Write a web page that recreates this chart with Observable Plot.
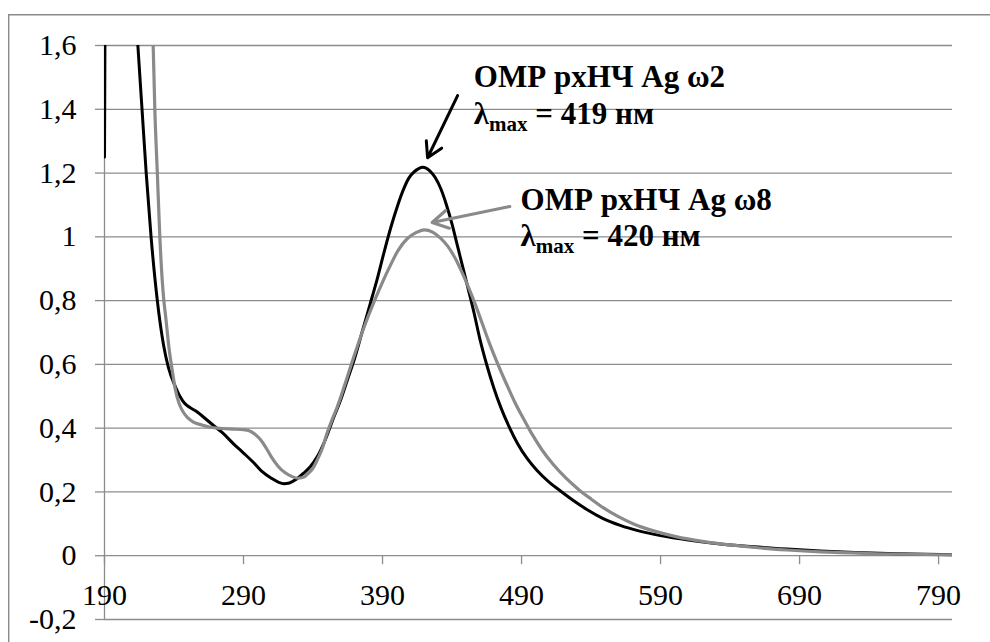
<!DOCTYPE html>
<html>
<head>
<meta charset="utf-8">
<script src="https://cdn.jsdelivr.net/npm/d3@7"></script>
<script src="https://cdn.jsdelivr.net/npm/@observablehq/plot@0.6"></script>
</head>
<body style="margin:0">
<script>
// Wavelength (nm) and absorbance for the ω2 sample (black curve)
const w2Wavelength = [190,191,200,208,212,214,217,220,223.5,228,232.5,236,241,246,257,268,275,283,290,297,303,310,315,319,323,328,333,338,343,348,355,360,365,370,376,381,386,391,396,401,405,409,412.5,416,419,424,428,432,436,440,444,448,452,456,460,465,470,475,481,487,494,501,510,518,527,537,548,561,575,590,610,633,657,681,705,730,760,800];
const w2Absorbance = [1.25,2.4,2.8,2.1,1.75,1.6,1.4,1.2,1.0,0.8,0.66,0.59,0.53,0.487,0.45,0.41,0.385,0.35,0.322,0.293,0.265,0.243,0.231,0.226,0.228,0.24,0.258,0.279,0.31,0.355,0.435,0.49,0.555,0.62,0.712,0.788,0.865,0.95,1.03,1.1,1.148,1.185,1.203,1.214,1.218,1.207,1.185,1.15,1.1,1.04,0.97,0.9,0.83,0.758,0.68,0.598,0.527,0.466,0.405,0.353,0.305,0.268,0.23,0.203,0.174,0.145,0.118,0.095,0.077,0.063,0.049,0.037,0.028,0.021,0.015,0.01,0.006,0.003];

// Wavelength (nm) and absorbance for the ω8 sample (grey curve)
const w8Wavelength = [190,210,218,222,225,226.2,228,229.8,231.5,232.7,234,236.3,238.7,241,243.5,246,250,254,260,266,275,283,290,294,298,302,306,310,315,320,325,329,333,336,340,343,347,350,354,357.4,364.6,369.4,376,383.8,390,395.8,401,407.7,414,420,426,431.7,437,442,447,452,457,462,467,473,479,485.5,492,498,505,513,522,531,540,549,559,571,585,601,620,640,660,681,705,740,800];
const w8Absorbance = [3.0,2.6,2.1,1.8,1.6,1.4,1.2,1.0,0.865,0.8,0.75,0.655,0.582,0.52,0.48,0.455,0.432,0.419,0.41,0.403,0.399,0.397,0.395,0.392,0.382,0.365,0.34,0.31,0.28,0.26,0.248,0.243,0.246,0.256,0.275,0.3,0.34,0.383,0.43,0.466,0.56,0.625,0.708,0.795,0.858,0.912,0.956,0.994,1.013,1.022,1.015,0.996,0.97,0.935,0.89,0.84,0.785,0.725,0.665,0.6,0.54,0.478,0.425,0.378,0.33,0.285,0.243,0.208,0.178,0.15,0.124,0.099,0.078,0.06,0.045,0.034,0.025,0.018,0.012,0.007,0.003];

const xTicks = [190,290,390,490,590,690,790];
const xTickLabels = ["190","290","390","490","590","690","790"];
const yTicks = [-0.2,0,0.2,0.4,0.6,0.8,1,1.2,1.4,1.6];
const yTickLabels = ["-0,2","0","0,2","0,4","0,6","0,8","1","1,2","1,4","1,6"];

const seriesNames = ["ОМР рхНЧ Ag ω2", "ОМР рхНЧ Ag ω8"];
const lambdaMax = [419, 420];

const w2 = w2Wavelength.map((x, i) => ({x, y: w2Absorbance[i]}));
const w8 = w8Wavelength.map((x, i) => ({x, y: w8Absorbance[i]}));

const GRID = "#8c8c8c";
const GREY = "#8a8a8a";
const FONT = "Liberation Serif, Times New Roman, serif";

const annoTitles = [
  {x: 455.7, y: 1.501, text: seriesNames[0]},
  {x: 489.3, y: 1.116, text: seriesNames[1]}
];
const annoLambda = [
  {x: 455.7, y: 1.386, text: "λmax = " + lambdaMax[0] + " нм"},
  {x: 489.3, y: 1.001, text: "λmax = " + lambdaMax[1] + " нм"}
];

// outer chart-area border (top and left edges visible in the picture)
function outerBorder() {
  const p = document.createElementNS("http://www.w3.org/2000/svg", "path");
  p.setAttribute("d", "M8.7,660V14.7H1000");
  p.setAttribute("fill", "none");
  p.setAttribute("stroke", "#8a8a8a");
  p.setAttribute("stroke-width", "1.4");
  return p;
}

const plot = Plot.plot({
  width: 990,
  height: 642,
  marginLeft: 104,
  marginRight: 38,
  marginTop: 45,
  marginBottom: 23,
  style: "font-family: 'Liberation Serif', 'Times New Roman', serif; font-size: 30px;",
  x: {domain: [190, 800], axis: null},
  y: {domain: [-0.2, 1.6]},
  marks: [
    outerBorder,
    Plot.ruleY(yTicks, {stroke: GRID, strokeWidth: 1.3}),
    Plot.ruleX([190], {stroke: GRID, strokeWidth: 1.3}),
    Plot.axisY({ticks: yTicks, tickFormat: d => yTickLabels[yTicks.indexOf(d)], tickSize: 9, tickPadding: 19,
                stroke: GRID, strokeWidth: 1.3, fill: "black", fontSize: 30, fontFamily: FONT, label: null}),
    Plot.ruleX(xTicks, {x: d => d, y1: 0, y2: 0, insetBottom: -9, stroke: GRID, strokeWidth: 1.3}),
    Plot.text(xTicks, {x: d => d, y: 0, dy: 40, text: (d, i) => xTickLabels[i], fontSize: 30, fontFamily: FONT, fill: "black"}),
    Plot.line(w2, {x: "x", y: "y", stroke: "black", strokeWidth: 3, curve: "monotone-x", clip: true}),
    Plot.line(w8, {x: "x", y: "y", stroke: GREY, strokeWidth: 3.2, curve: "monotone-x", clip: true}),
    Plot.arrow([{x1: 444.0, y1: 1.443, x2: 422.4, y2: 1.248}], {x1: "x1", y1: "y1", x2: "x2", y2: "y2",
                stroke: "black", strokeWidth: 3, headLength: 8.5}),
    Plot.arrow([{x1: 481.5, y1: 1.095, x2: 425.7, y2: 1.045}], {x1: "x1", y1: "y1", x2: "x2", y2: "y2",
                stroke: GREY, strokeWidth: 3.2, headLength: 8.5}),
    Plot.text(annoTitles, {x: "x", y: "y", text: "text", textAnchor: "start", fontWeight: "bold", fontSize: 31, fontFamily: FONT, fill: "black"}),
    Plot.text(annoLambda, {x: "x", y: "y", text: "text", textAnchor: "start", fontWeight: "bold", fontSize: 31, fontFamily: FONT, fill: "black"})
  ]
});

// embedded stylesheet so the serif face travels with the SVG itself
const ns = "http://www.w3.org/2000/svg";
const css = document.createElementNS(ns, "style");
css.textContent = "text, tspan { font-family: 'Liberation Serif', 'Times New Roman', serif !important; font-variant: normal; }";
plot.insertBefore(css, plot.firstChild);

plot.querySelectorAll("text").forEach(t => {
  t.setAttribute("font-family", "Liberation Serif");
  const s = t.textContent;
  if (s.startsWith("λmax")) {
    const rest = s.slice(4);
    while (t.firstChild) t.removeChild(t.firstChild);
    t.appendChild(document.createTextNode("λ"));
    const sub = document.createElementNS(ns, "tspan");
    sub.setAttribute("font-size", "21");
    sub.setAttribute("dy", "7");
    sub.textContent = "max";
    t.appendChild(sub);
    const r = document.createElementNS(ns, "tspan");
    r.setAttribute("dy", "-7");
    r.textContent = rest;
    t.appendChild(r);
  }
});

document.body.appendChild(plot);
</script>
</body>
</html>
